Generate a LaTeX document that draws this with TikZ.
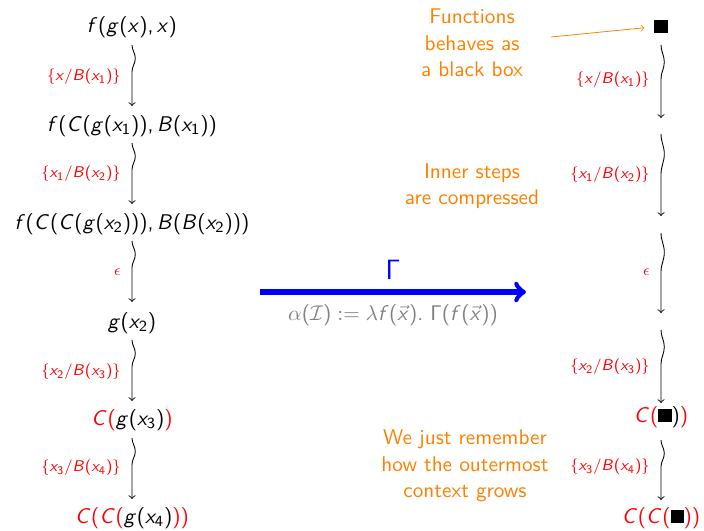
\documentclass[tikz,border=0pt,11pt]{standalone}
\usepackage{amsmath,amssymb}
\renewcommand{\familydefault}{\sfdefault}
\DeclareSymbolFont{sfletters}{OT1}{cmss}{m}{sl}
\DeclareSymbolFont{sfupright}{OT1}{cmss}{m}{n}
\DeclareMathSymbol{f}{\mathalpha}{sfletters}{`f}
\DeclareMathSymbol{g}{\mathalpha}{sfletters}{`g}
\DeclareMathSymbol{x}{\mathalpha}{sfletters}{`x}
\DeclareMathSymbol{B}{\mathalpha}{sfletters}{`B}
\DeclareMathSymbol{C}{\mathalpha}{sfletters}{`C}
\DeclareMathSymbol{1}{\mathalpha}{sfupright}{`1}
\DeclareMathSymbol{2}{\mathalpha}{sfupright}{`2}
\DeclareMathSymbol{3}{\mathalpha}{sfupright}{`3}
\DeclareMathSymbol{4}{\mathalpha}{sfupright}{`4}
\DeclareMathSymbol{(}{\mathopen}{sfupright}{`(}
\DeclareMathSymbol{)}{\mathclose}{sfupright}{`)}
\DeclareMathSymbol{,}{\mathpunct}{sfupright}{`,}
\DeclareMathSymbol{.}{\mathpunct}{sfupright}{`.}
\DeclareMathSymbol{/}{\mathord}{sfupright}{`/}
\DeclareMathSymbol{\sfGamma}{\mathalpha}{sfupright}{0}
\usetikzlibrary{decorations.pathmorphing,arrows}
\tikzset{
  term/.style={inner sep=1pt},
  lbl/.style={inner sep=1pt, text=red, font=\scriptsize, anchor=east},
  note/.style={inner sep=1pt, text=orange, align=center},
  squig/.style={-to, line width=0.45pt, decorate, decoration={snake, amplitude=1.7pt, segment length=#1, post length=9pt}},
}
\newcommand{\bb}{\raisebox{0.2pt}{\rule{6.8pt}{6.8pt}}}
\begin{document}
\begin{tikzpicture}[x=0.5154pt,y=-0.5154pt]
\useasboundingbox (0,0) rectangle (704,530);
% left column
\node[term] (l1) at (132,27) {$f(g(x),x)$};
\node[term] (l2) at (132,126) {$f(C(g(x_1)),B(x_1))$};
\node[term] (l3) at (132,224) {$f(C(C(g(x_2))),B(B(x_2)))$};
\node[term] (l4) at (132,323) {$g(x_2)$};
\node[term] (l5) at (132,420) {$\color{red}C(\color{black}g(x_3)\color{red})$};
\node[term] (l6) at (132,518) {$\color{red}C(C(\color{black}g(x_4)\color{red}))$};
\coordinate (a1s) at (132,45); \coordinate (a1e) at (132,106);
\coordinate (a2s) at (132,143); \coordinate (a2e) at (132,204);
\coordinate (a3s) at (132,241); \coordinate (a3e) at (132,302);
\coordinate (a4s) at (132,340); \coordinate (a4e) at (132,401);
\coordinate (a5s) at (132,438); \coordinate (a5e) at (132,499);
\draw[squig=22pt] (a1s) -- (a1e);
\draw[squig=22pt] (a2s) -- (a2e);
\draw[squig=22pt] (a3s) -- (a3e);
\draw[squig=22pt] (a4s) -- (a4e);
\draw[squig=22pt] (a5s) -- (a5e);
\node[lbl] (ll1) at (123,77) {$\{x/B(x_1)\}$};
\node[lbl] (ll2) at (123,174) {$\{x_1/B(x_2)\}$};
\node[lbl] (ll3) at (123,272) {$\epsilon$};
\node[lbl] (ll4) at (123,372) {$\{x_2/B(x_3)\}$};
\node[lbl] (ll5) at (123,468) {$\{x_3/B(x_4)\}$};
% right column
\node[term] (r1) at (661,27) {$\bb$};
\node[term] (r5) at (661,417) {$\color{red}C(\color{black}\bb)\color{red})$};
\node[term] (r6) at (661,518) {$\color{red}C(C(\color{black}\bb\color{red}))$};
\coordinate (b1s) at (661,45); \coordinate (b1e) at (661,118);
\coordinate (b2s) at (661,134); \coordinate (b2e) at (661,216);
\coordinate (b3s) at (661,233); \coordinate (b3e) at (661,313);
\coordinate (b4s) at (661,330); \coordinate (b4e) at (661,403);
\coordinate (b5s) at (661,440); \coordinate (b5e) at (661,500);
\draw[squig=28pt] (b1s) -- (b1e);
\draw[squig=33pt] (b2s) -- (b2e);
\draw[squig=32pt] (b3s) -- (b3e);
\draw[squig=28pt] (b4s) -- (b4e);
\draw[squig=22pt] (b5s) -- (b5e);
\node[lbl] (rl1) at (652,80) {$\{x/B(x_1)\}$};
\node[lbl] (rl2) at (652,175) {$\{x_1/B(x_2)\}$};
\node[lbl] (rl3) at (652,272) {$\epsilon$};
\node[lbl] (rl4) at (652,367) {$\{x_2/B(x_3)\}$};
\node[lbl] (rl5) at (652,467) {$\{x_3/B(x_4)\}$};
% notes
\node[note] (n1) at (472,43) {Functions\\behaves as\\a black box};
\coordinate (n1s) at (551,37);
\draw[orange, -to, shorten >=4pt] (n1s) -- (r1.west);
\node[note] (n2) at (472,186) {Inner steps\\are compressed};
\node[note] (n3) at (465,466) {We just remember\\how the outermost\\context grows};
% Gamma arrow
\coordinate (gs) at (260,292); \coordinate (ge) at (526,292);
\draw[blue, line width=2.6pt, -to] (gs) -- (ge);
\node[text=blue, font=\Large, inner sep=1pt] (gam) at (393,270) {$\sfGamma$};
\node[text=gray, inner sep=1pt] (alp) at (393,315) {$\alpha(\mathcal{I}) := \lambda f(\vec{x}).\,\sfGamma(f(\vec{x}))$};
\end{tikzpicture}
\end{document}
